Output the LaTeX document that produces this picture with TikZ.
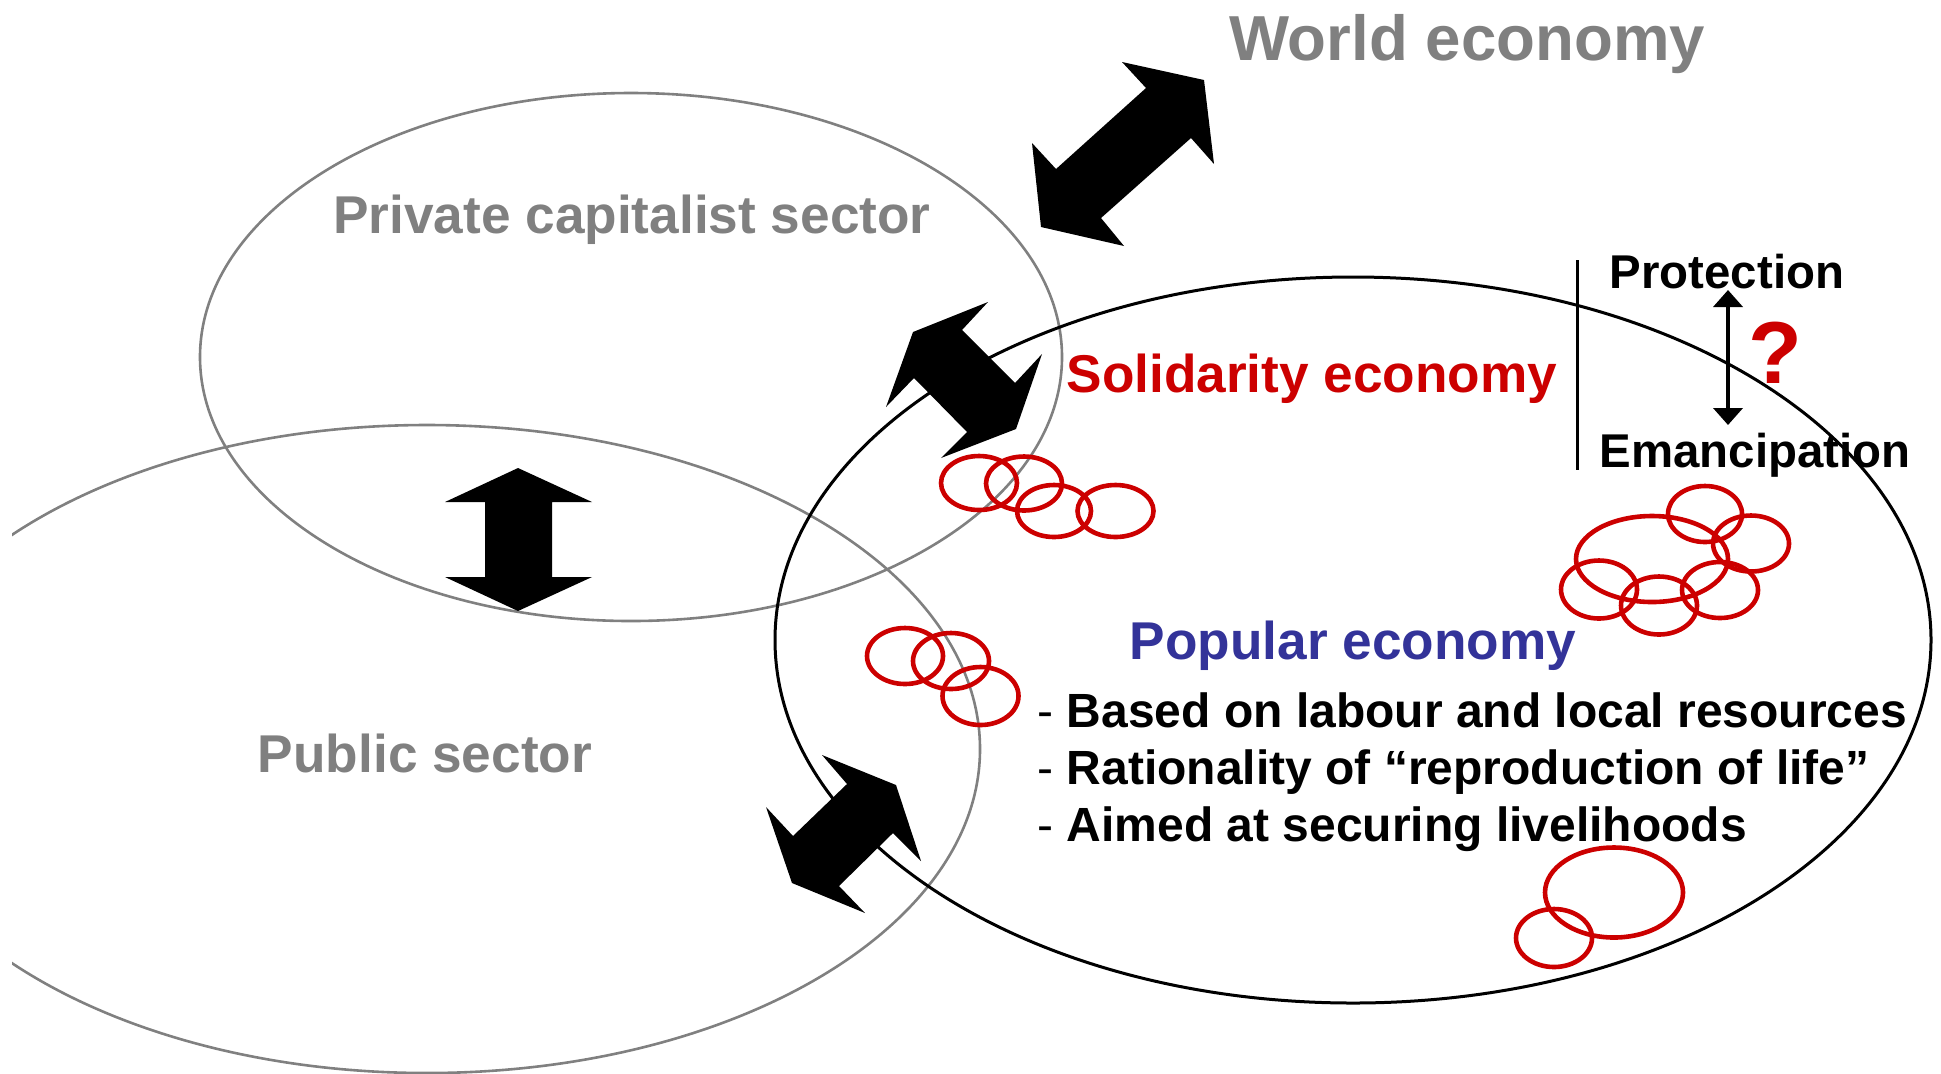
\documentclass[tikz,border=0pt]{standalone}
\usepackage{fontspec}
\setmainfont{Liberation Sans}
\usetikzlibrary{arrows.meta}
\definecolor{sectorgray}{RGB}{128,128,128}
\definecolor{solred}{RGB}{204,0,0}
\definecolor{popblue}{RGB}{51,51,153}

\begin{document}
\begin{tikzpicture}[x=0.5pt,y=-0.5pt,
  sector/.style={draw=sectorgray, line width=1.3pt},
  popular/.style={draw=black, line width=1.5pt},
  group/.style={draw=solred, line width=2.3pt},
  blockarrow/.style={fill=black},
  title/.style={inner sep=0pt, anchor=base, font=\bfseries\fontsize{31.8pt}{36pt}\selectfont},
  sectorlabel/.style={inner sep=0pt, anchor=base, font=\bfseries\fontsize{26.6pt}{30pt}\selectfont},
  poletext/.style={inner sep=0pt, anchor=base, font=\bfseries\fontsize{23.7pt}{28pt}\selectfont},
  feature/.style={inner sep=0pt, anchor=base west, font=\bfseries\fontsize{24pt}{28pt}\selectfont}]

\useasboundingbox (0,0) rectangle (1941,1073);

% sector ellipses
\begin{scope}
  \clip (12,0) rectangle (1941,1073);
  \draw[sector] (631,357) ellipse [x radius=431, y radius=264];
  \draw[sector] (427,749) ellipse [x radius=553, y radius=324];
\end{scope}
\draw[popular] (1353,640) ellipse [x radius=578, y radius=363];

% clusters of solidarity initiatives
\draw[group] (979,483) ellipse [x radius=38, y radius=27];
\draw[group] (1024,483.5) ellipse [x radius=38, y radius=27];
\draw[group] (1054,511) ellipse [x radius=37, y radius=26];
\draw[group] (1115.5,511) ellipse [x radius=38, y radius=26];

\draw[group] (905,656) ellipse [x radius=38, y radius=28];
\draw[group] (951,661) ellipse [x radius=38, y radius=28];
\draw[group] (980.5,696) ellipse [x radius=38, y radius=29];

\draw[group] (1652,559) ellipse [x radius=76, y radius=43];
\draw[group] (1705,514) ellipse [x radius=37, y radius=28];
\draw[group] (1751,543.5) ellipse [x radius=38, y radius=28];
\draw[group] (1599,589.5) ellipse [x radius=38, y radius=29];
\draw[group] (1659,605.5) ellipse [x radius=38, y radius=29];
\draw[group] (1720,590) ellipse [x radius=38, y radius=28];

\draw[group] (1614,892.5) ellipse [x radius=69, y radius=45];
\draw[group] (1554,938) ellipse [x radius=38, y radius=29];

% block double arrows between the spheres
\fill[blockarrow] (1122,62) -- (1204,80) -- (1214,164) -- (1191,138) -- (1101,218)
  -- (1124,246) -- (1041,227) -- (1032,143) -- (1056,169) -- (1146,88) -- cycle;
\fill[blockarrow] (988,302) -- (913,332) -- (886,407) -- (914,378) -- (967,432)
  -- (941,458) -- (1016,429) -- (1042,354) -- (1015,383) -- (962,330) -- cycle;
\fill[blockarrow] (518,468) -- (445,502) -- (485,502) -- (485,577) -- (445,577)
  -- (518,611) -- (592,577) -- (552,577) -- (552,502) -- (592,502) -- cycle;
\fill[blockarrow] (822,755) -- (896,785) -- (921,861) -- (893,833) -- (839,886)
  -- (865,913) -- (792,883) -- (766,807) -- (793,836) -- (847,784) -- cycle;

% labels
\node[title, text=sectorgray] (world) at (1467,60) {World economy};
\node[sectorlabel, text=sectorgray] (private) at (632,233) {Private capitalist sector};
\node[sectorlabel, text=sectorgray] (public) at (425,772) {Public sector};
\node[sectorlabel, text=solred] (solidarity) at (1312,392) {Solidarity economy};
\node[sectorlabel, text=popblue] (popularlbl) at (1353,659) {Popular economy};

\node[feature] (f1) at (1037,727) {{\mdseries -} Based on labour and local resources};
\node[feature] (f2) at (1037,784) {{\mdseries -} Rationality of “reproduction of life”};
\node[feature] (f3) at (1037,841) {{\mdseries -} Aimed at securing livelihoods};

% protection / emancipation tension
\draw[line width=1.5pt] (1577,260) coordinate (bar-top) -- (1577,470) coordinate (bar-bot);
\node[poletext] (protection) at (1727,288) {Protection};
\node[poletext] (emancipation) at (1755,467) {Emancipation};
\coordinate (pe-top) at (1728,290);
\coordinate (pe-bot) at (1728,425);
\draw[line width=2pt, {Triangle[width=14.5pt,length=8.5pt]}-{Triangle[width=14.5pt,length=8.5pt]}] (pe-top) -- (pe-bot);
\node[inner sep=0pt, anchor=base, text=solred, font=\bfseries\fontsize{44pt}{48pt}\selectfont] (question) at (1775,383) {?};

\end{tikzpicture}
\end{document}
